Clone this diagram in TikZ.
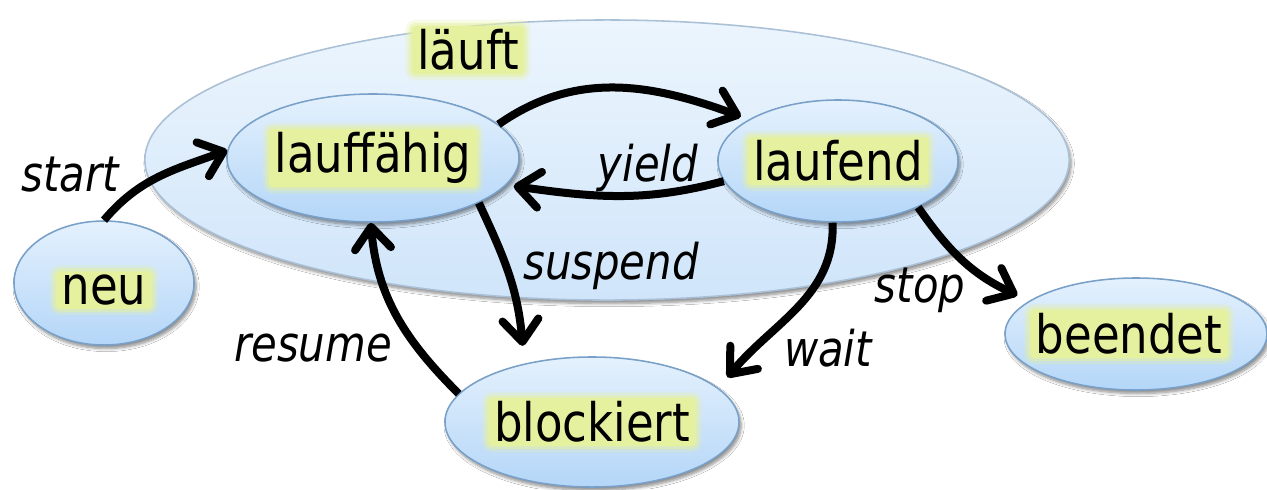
\documentclass[tikz,border=0pt]{standalone}
\usepackage{fontspec}
\setmainfont{DejaVu Sans}[FakeStretch=0.85]
\usetikzlibrary{shapes.geometric,arrows.meta,shadows.blur}

\definecolor{statetop}{RGB}{228,241,253}
\definecolor{statebottom}{RGB}{180,214,248}
\definecolor{stateborder}{RGB}{120,160,200}
\definecolor{outertop}{RGB}{236,245,253}
\definecolor{outerbottom}{RGB}{208,229,250}
\definecolor{outerborder}{RGB}{170,192,214}
\definecolor{hlyellow}{RGB}{230,241,160}

\begin{document}
\begin{tikzpicture}[x=0.025cm,y=-0.025cm,
  softshadow/.style={blur shadow={shadow xshift=1.5pt, shadow yshift=-2.5pt,
      shadow blur steps=6, shadow opacity=45}},
  state/.style={ellipse, draw=stateborder, line width=1.1pt,
      top color=statetop, bottom color=statebottom, inner sep=0pt, softshadow},
  outer/.style={ellipse, draw=outerborder, line width=1.1pt,
      top color=outertop, bottom color=outerbottom, inner sep=0pt, softshadow},
  word/.style={fill=hlyellow, rounded corners=3pt, inner xsep=4pt, inner ysep=2.5pt,
      preaction={draw=hlyellow, draw opacity=0.25, line width=9pt, rounded corners=5pt},
      preaction={draw=hlyellow, draw opacity=0.5, line width=4.5pt, rounded corners=4pt},
      font=\fontsize{37.7pt}{40pt}\selectfont},
  lbl/.style={font=\fontsize{35pt}{38pt}\selectfont\itshape, inner sep=0pt},
  arr/.style={line width=0.2cm,
      -{Straight Barb[length=0.55cm,width=0.9cm,round]}},
]
\useasboundingbox[fill=white] (0,0) rectangle (1267,489);

% enclosing state
\node[outer, minimum width=23.1cm, minimum height=7cm] (laeuft) at (607,160) {};
\node[word] (laeuft-t) at (468,50) {läuft};

% states
\node[state, minimum width=7.3cm, minimum height=3.2cm]  (lauffaehig) at (373,158) {};
\node[state, minimum width=6.0cm, minimum height=3.05cm] (laufend)    at (838,161) {};
\node[state, minimum width=4.5cm, minimum height=3.1cm]  (neu)        at (104,283) {};
\node[state, minimum width=7.35cm, minimum height=3.25cm] (blockiert) at (592,422) {};
\node[state, minimum width=6.55cm, minimum height=2.8cm] (beendet)    at (1136,334) {};

\node[word] (lauffaehig-t) at (lauffaehig) {lauffähig};
\node[word] (laufend-t)    at (laufend)    {laufend};
\node[word] (neu-t)        at ([yshift=-5]neu.center) {neu};
\node[word] (blockiert-t)  at (blockiert)  {blockiert};
\node[word] (beendet-t)    at ([xshift=-5]beendet.center) {beendet};

% transitions
\draw[arr] (neu.north) to[out=50,in=200] (lauffaehig.177);
\draw[arr] (lauffaehig.15) to[out=35,in=160] ([shift={(-6,-4)}]laufend.156);
\draw[arr] (laufend.190) to[out=195,in=-8] ([xshift=6]lauffaehig.348);
\draw[arr] (lauffaehig.337) to[out=-65,in=95] ([shift={(0,-18)}]blockiert.140);
\draw[arr] (blockiert.168) to[out=135,in=-85] (lauffaehig.268);
\draw[arr] (laufend.265) to[out=-88,in=50] ([shift={(16,-6)}]blockiert.18);
\draw[arr] (laufend.330) to[out=-55,in=155] ([shift={(-18,-2)}]beendet.160);

% transition labels
\node[lbl] (l-start)   at (70,175)  {start};
\node[lbl] (l-yield)   at (648,168) {yield};
\node[lbl] (l-suspend) at (611,266) {suspend};
\node[lbl] (l-resume)  at (313,348) {resume};
\node[lbl] (l-wait)    at (828,348) {wait};
\node[lbl] (l-stop)    at (920,290) {stop};
\end{tikzpicture}
\end{document}
